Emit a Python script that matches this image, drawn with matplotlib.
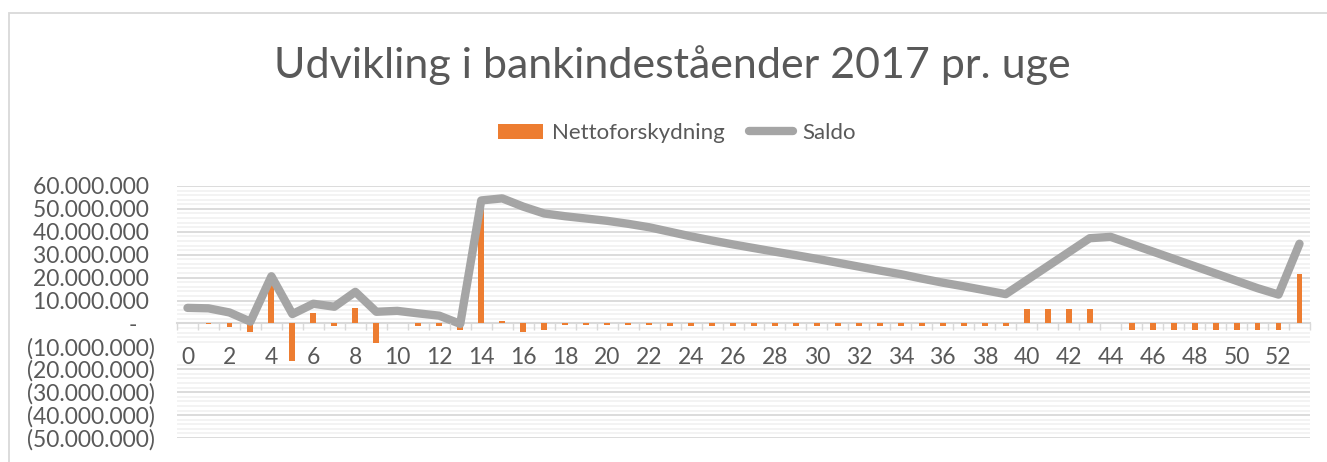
import numpy as np
import matplotlib.pyplot as plt
from matplotlib.ticker import FuncFormatter, MultipleLocator
from matplotlib.patches import Rectangle

# uge 0..53, værdier i mio. kr.
uger = list(range(54))
saldo = [6.8, 6.6, 4.8, 0.8, 20.6, 4.1, 8.6, 7.3, 13.8, 5.1,
         5.5, 4.4, 3.4, -0.2, 53.7, 54.6, 51.0, 48.0, 46.8, 45.8,
         44.8, 43.5, 42.0, 40.0, 38.0, 36.2, 34.5, 32.9, 31.3, 29.8,
         28.2, 26.5, 24.8, 23.1, 21.5, 19.6, 17.8, 16.2, 14.5, 12.8,
         18.9, 25.0, 31.1, 37.2, 37.8, 34.6, 31.4, 28.2, 25.0, 21.8,
         18.6, 15.4, 12.6, 34.8]
netto = [0.0, -0.2, -1.4, -3.6, 19.8, -16.4, 4.4, -1.1, 6.6, -8.5,
         0.4, -1.1, -1.0, -2.8, 53.9, 0.9, -3.6, -2.8, -0.8, -0.7,
         -0.7, -0.8, -0.8, -1.1, -1.1, -1.1, -1.1, -1.1, -1.1, -1.1,
         -1.1, -1.1, -1.1, -1.1, -1.1, -1.2, -1.2, -1.2, -1.2, -1.2,
         6.2, 6.2, 6.2, 6.2, 0.4, -2.7, -2.7, -2.7, -2.7, -3.0,
         -3.0, -3.0, -3.0, 21.8]

saldo = np.array(saldo) * 1e6
netto = np.array(netto) * 1e6

tekst = '#595959'
plt.rcParams['font.family'] = ['Lato', 'DejaVu Sans']

fig = plt.figure(figsize=(13.27, 4.62), dpi=100)
ax = fig.add_axes([177 / 1327, 24 / 462, 1133 / 1327, 252 / 462])

# ramme om diagrammet
fig.patches.append(Rectangle((9 / 1327, -0.1), 1.2, 0.1 + 449 / 462,
                             transform=fig.transFigure, fill=False,
                             edgecolor='#d9d9d9', linewidth=1.3))

bars = ax.bar(uger, netto, width=0.28, color='#ED7D31', label='Nettoforskydning', zorder=3)
line, = ax.plot(uger, saldo, color='#A5A5A5', linewidth=6, label='Saldo',
                solid_capstyle='round', solid_joinstyle='round', zorder=4)

ax.set_xlim(-0.5, 53.5)
ax.set_ylim(-50e6, 60e6)

ax.yaxis.set_major_locator(MultipleLocator(10e6))
ax.yaxis.set_minor_locator(MultipleLocator(2e6))
ax.grid(which='major', axis='y', color='#d9d9d9', linewidth=1.3)
ax.grid(which='minor', axis='y', color='#f2f2f2', linewidth=1.3)
ax.set_axisbelow(True)
ax.xaxis.set_zorder(5)

# hvid baggrund bag ugenumrene
ax.axhspan(-16.8e6, -9.0e6, color='white', zorder=1, linewidth=0)


def kroner(v, pos):
    n = int(round(v))
    if n == 0:
        return '-   '
    s = f"{abs(n):,}".replace(',', '.')
    return f"({s})" if n < 0 else s + ' '


ax.yaxis.set_major_formatter(FuncFormatter(kroner))
ax.tick_params(axis='y', which='both', length=0, pad=16, labelsize=16.5, labelcolor=tekst)

for side in ['top', 'right', 'left']:
    ax.spines[side].set_visible(False)
ax.spines['bottom'].set_position(('data', 0))
ax.spines['bottom'].set_color('#d9d9d9')
ax.spines['bottom'].set_linewidth(1.5)
ax.spines['bottom'].set_zorder(2)

ax.set_xticks(uger[::2])
ax.set_xticks(np.arange(-0.5, 54, 1), minor=True)
ax.tick_params(axis='x', which='major', length=0, pad=17, labelsize=16.5, labelcolor=tekst)
ax.tick_params(axis='x', which='minor', length=5, width=1, color='#d9d9d9', direction='out')

fig.text(0.5065, 0.86, 'Udvikling i bankindeståender 2017 pr. uge', ha='center', va='center',
         fontsize=31, color=tekst)

fig.legend([bars, line], ['Nettoforskydning', 'Saldo'], loc='center',
           bbox_to_anchor=(677 / 1327, 0.712), ncol=2, frameon=False,
           fontsize=16, labelcolor=tekst, handlelength=2.0, handletextpad=0.4,
           columnspacing=1.1)

fig.savefig('out.png', dpi=100)
